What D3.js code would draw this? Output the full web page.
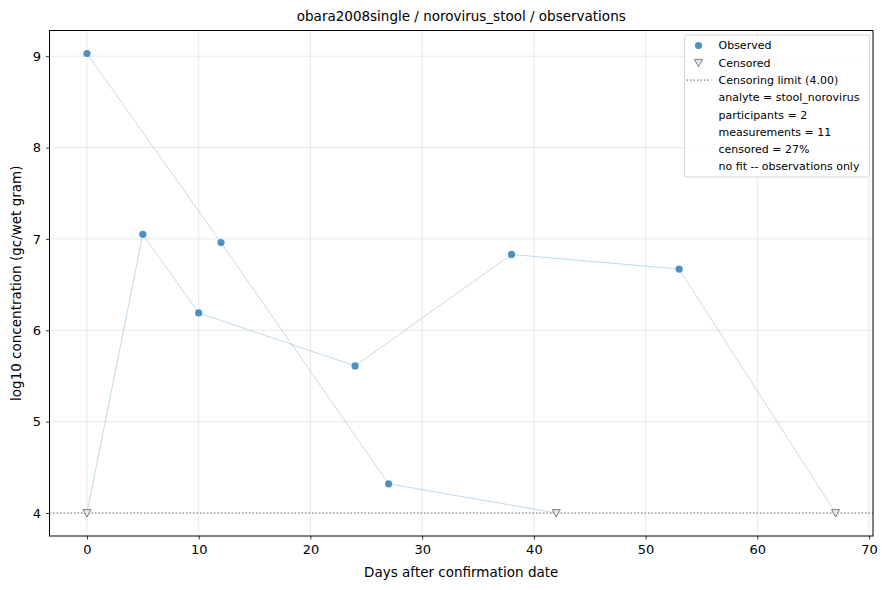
<!DOCTYPE html>
<html>
<head>
<meta charset="utf-8">
<script src="https://cdn.jsdelivr.net/npm/d3@7"></script>
<style>
  body { margin: 0; background: #fff; }
  svg { font-family: "DejaVu Sans", sans-serif; }
</style>
</head>
<body>
<div id="chart"></div>
<script>
// observations per participant (days, log10 conc, censored flag)
const p1Days = [0, 12, 27, 42]
const p1Values = [9.03, 6.96, 4.32, 4.0]
const p1Censored = [false, false, false, true]

const p2Days = [0, 5, 10, 24, 38, 53, 67]
const p2Values = [4.0, 7.05, 6.19, 5.61, 6.83, 6.67, 4.0]
const p2Censored = [true, false, false, false, false, false, true]

const xTicks = [0, 10, 20, 30, 40, 50, 60, 70]
const yTicks = [4, 5, 6, 7, 8, 9]
const censorLimit = 4.0

const legendInfo = [
  "analyte = stool_norovirus",
  "participants = 2",
  "measurements = 11",
  "censored = 27%",
  "no fit -- observations only"
]

const width = 889
const height = 590
const margin = {top: 30.5, right: 16, bottom: 54, left: 49.5}

const svg = d3.select("#chart")
  .append("svg")
    .attr("width", width)
    .attr("height", height)

const series = [
  {days: p1Days, values: p1Values, censored: p1Censored},
  {days: p2Days, values: p2Values, censored: p2Censored}
].map(s => s.days.map((d, i) => ({day: d, value: s.values[i], censored: s.censored[i]})))

const allPts = series.flat()

// matplotlib-like 5% padding around the data
const xExt = d3.extent(allPts, d => d.day)
const yExt = d3.extent(allPts, d => d.value)
const xPad = (xExt[1] - xExt[0]) * 0.05
const yPad = (yExt[1] - yExt[0]) * 0.05

const x = d3.scaleLinear()
  .domain([xExt[0] - xPad, xExt[1] + xPad])
  .range([margin.left, width - margin.right])

const y = d3.scaleLinear()
  .domain([yExt[0] - yPad, yExt[1] + yPad])
  .range([height - margin.bottom, margin.top])

// grid
const grid = svg.append("g")
grid.selectAll(".gx")
  .data(xTicks)
  .join("line")
    .attr("x1", d => x(d)).attr("x2", d => x(d))
    .attr("y1", margin.top).attr("y2", height - margin.bottom)
    .attr("stroke", "#b0b0b0").attr("stroke-opacity", 0.35).attr("stroke-width", 0.8)
grid.selectAll(".gy")
  .data(yTicks)
  .join("line")
    .attr("x1", margin.left).attr("x2", width - margin.right)
    .attr("y1", d => y(d)).attr("y2", d => y(d))
    .attr("stroke", "#b0b0b0").attr("stroke-opacity", 0.35).attr("stroke-width", 0.8)

// censoring limit
svg.append("line")
  .attr("x1", margin.left).attr("x2", width - margin.right)
  .attr("y1", y(censorLimit)).attr("y2", y(censorLimit))
  .attr("stroke", "#808080").attr("stroke-width", 1.2)
  .attr("stroke-dasharray", "1.5,2")

// participant trajectories
const line = d3.line().x(d => x(d.day)).y(d => y(d.value))
svg.append("g")
  .selectAll("path")
  .data(series)
  .join("path")
    .attr("d", line)
    .attr("fill", "none")
    .attr("stroke", "#1f77b4")
    .attr("stroke-opacity", 0.3)
    .attr("stroke-width", 0.9)

// observed points
svg.append("g")
  .selectAll("circle")
  .data(allPts.filter(d => !d.censored))
  .join("circle")
    .attr("cx", d => x(d.day))
    .attr("cy", d => y(d.value))
    .attr("r", 3.6)
    .attr("fill", "#1f77b4")
    .attr("fill-opacity", 0.8)

// censored points (down triangles)
const tri = (cx, cy, s) => `M${cx - s},${cy - s * 0.85}L${cx + s},${cy - s * 0.85}L${cx},${cy + s}Z`
svg.append("g")
  .selectAll("path")
  .data(allPts.filter(d => d.censored))
  .join("path")
    .attr("d", d => tri(x(d.day), y(d.value), 4))
    .attr("fill", "#e8e8e8")
    .attr("stroke", "#707070")
    .attr("stroke-width", 0.9)

// axes
const xAxis = svg.append("g")
  .attr("transform", `translate(0,${height - margin.bottom})`)
  .call(d3.axisBottom(x).tickValues(xTicks).tickSize(3.5).tickPadding(5).tickFormat(d3.format("d")))
const yAxis = svg.append("g")
  .attr("transform", `translate(${margin.left},0)`)
  .call(d3.axisLeft(y).tickValues(yTicks).tickSize(3.5).tickPadding(5).tickFormat(d3.format("d")))
for (const ax of [xAxis, yAxis]) {
  ax.select(".domain").remove()
  ax.selectAll("text").attr("font-size", 13).attr("fill", "#000").attr("font-family", "DejaVu Sans")
  ax.selectAll("line").attr("stroke", "#000").attr("stroke-width", 0.8)
}

// frame
svg.append("rect")
  .attr("x", margin.left).attr("y", margin.top)
  .attr("width", width - margin.left - margin.right)
  .attr("height", height - margin.top - margin.bottom)
  .attr("fill", "none").attr("stroke", "#000").attr("stroke-width", 1)

// title and labels
svg.append("text")
  .attr("x", (margin.left + width - margin.right) / 2).attr("y", 21)
  .attr("text-anchor", "middle").attr("font-size", 13.5)
  .text("obara2008single / norovirus_stool / observations")
svg.append("text")
  .attr("x", (margin.left + width - margin.right) / 2).attr("y", 577)
  .attr("text-anchor", "middle").attr("font-size", 13.5)
  .text("Days after confirmation date")
svg.append("text")
  .attr("transform", `translate(21,${(margin.top + height - margin.bottom) / 2}) rotate(-90)`)
  .attr("text-anchor", "middle").attr("font-size", 13.5)
  .text("log10 concentration (gc/wet gram)")

// legend
const lg = svg.append("g").attr("transform", "translate(684.5,35)")
lg.append("rect")
  .attr("width", 185).attr("height", 142).attr("rx", 2.5)
  .attr("fill", "#fff").attr("fill-opacity", 0.8)
  .attr("stroke", "#cccccc").attr("stroke-width", 0.8)

const rowH = 17.3
const rowY = i => 10.5 + i * rowH
const textX = 34

lg.append("circle").attr("cx", 14).attr("cy", rowY(0)).attr("r", 3.6)
  .attr("fill", "#1f77b4").attr("fill-opacity", 0.8)
lg.append("path").attr("d", tri(14, rowY(1), 4))
  .attr("fill", "#e8e8e8").attr("stroke", "#707070").attr("stroke-width", 0.9)
lg.append("line").attr("x1", 2).attr("x2", 27).attr("y1", rowY(2)).attr("y2", rowY(2))
  .attr("stroke", "#808080").attr("stroke-width", 1.2).attr("stroke-dasharray", "1.5,2")

const legendLabels = ["Observed", "Censored", `Censoring limit (${censorLimit.toFixed(2)})`].concat(legendInfo)
lg.selectAll("text")
  .data(legendLabels)
  .join("text")
    .attr("x", textX)
    .attr("y", (d, i) => rowY(i))
    .attr("dy", "0.35em")
    .attr("font-size", 11)
    .text(d => d)
</script>
</body>
</html>
